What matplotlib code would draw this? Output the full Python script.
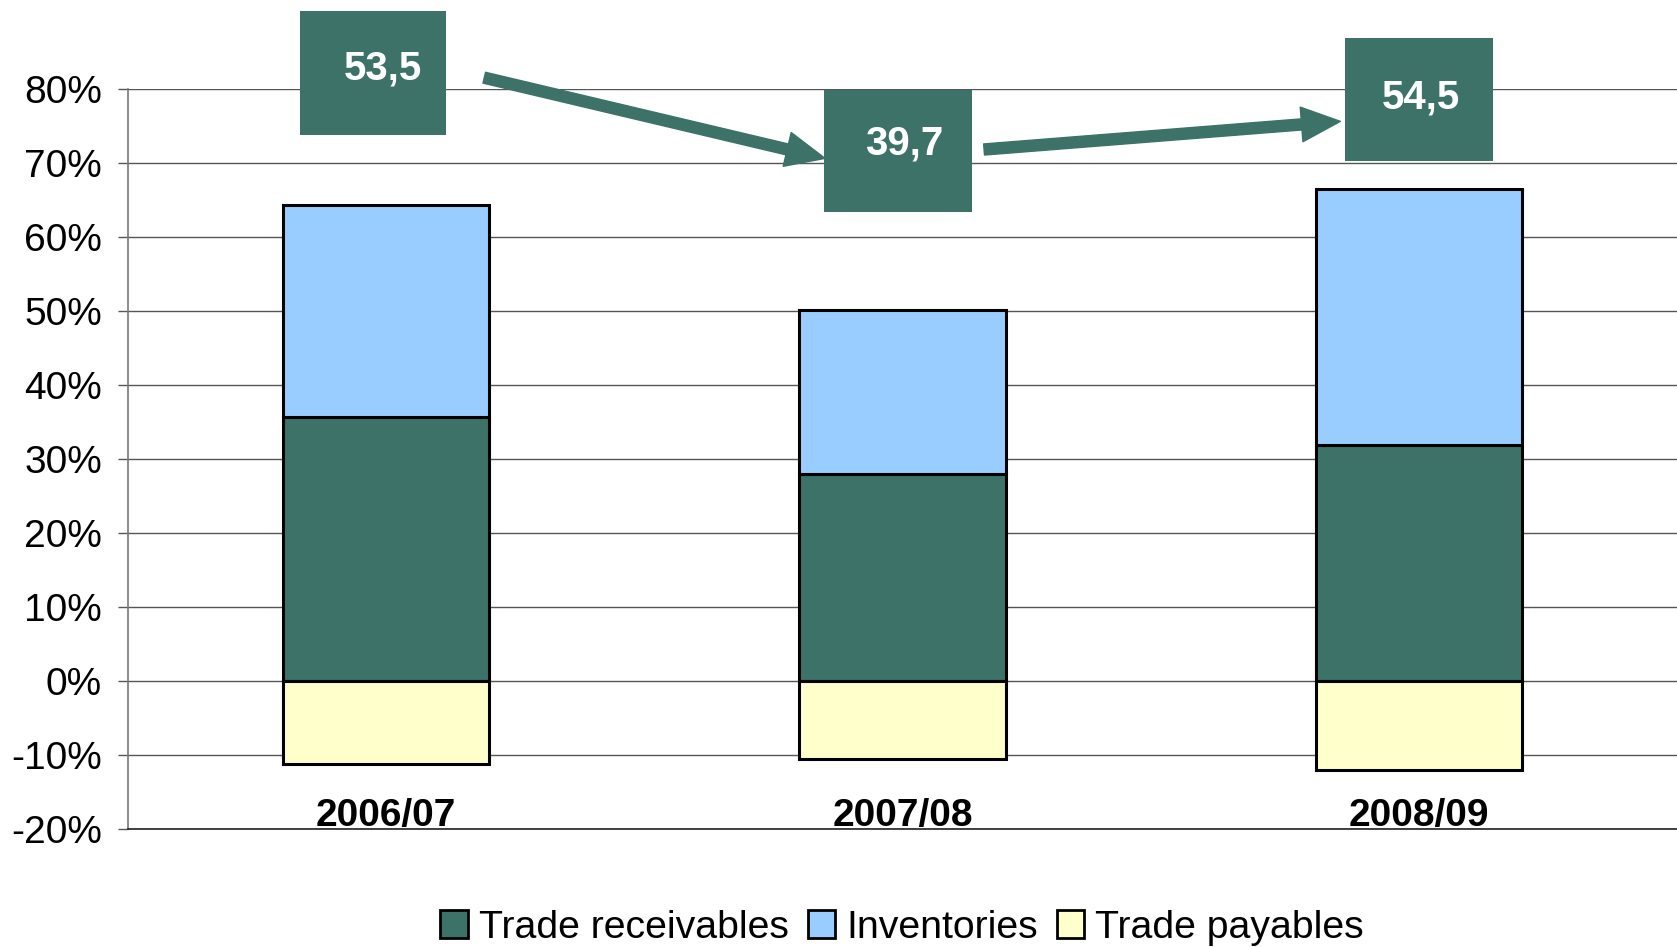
import matplotlib
matplotlib.use("Agg")
import matplotlib.pyplot as plt
from matplotlib.patches import Rectangle, FancyArrowPatch, Patch
from matplotlib.patches import ArrowStyle

plt.rcParams['font.family'] = ['Liberation Sans', 'DejaVu Sans']

categories = ["2006/07", "2007/08", "2008/09"]
receivables = [35.7, 27.9, 31.9]
inventories = [28.6, 22.2, 34.6]
payables = [-11.2, -10.5, -12.0]
net_labels = ["53,5", "39,7", "54,5"]
yticks = [-20, -10, 0, 10, 20, 30, 40, 50, 60, 70, 80]

c_rec = "#3d7268"
c_inv = "#99ccff"
c_pay = "#ffffcc"
c_grid = "#555555"

fig = plt.figure(figsize=(16.77, 9.47), dpi=100)
ax = fig.add_axes([128/1677, 1-828.9/947, 1-128/1677, (828.9-88.8)/947])

x = list(range(len(categories)))
w = 0.4
ax.bar(x, receivables, w, color=c_rec, edgecolor="black", linewidth=2.2, zorder=3, label="Trade receivables")
ax.bar(x, inventories, w, bottom=receivables, color=c_inv, edgecolor="black", linewidth=2.2, zorder=3, label="Inventories")
ax.bar(x, payables, w, color=c_pay, edgecolor="black", linewidth=2.2, zorder=3, label="Trade payables")

ax.set_xlim(-0.5, 2.5)
ax.set_ylim(-20, 80)
ax.set_yticks(yticks)
ax.set_yticklabels([f"{t}%" for t in yticks], fontsize=28)
ax.set_xticks([])
ax.yaxis.grid(True, color=c_grid, linewidth=1.0, zorder=0)
ax.set_axisbelow(True)
for s in ["top", "right"]:
    ax.spines[s].set_visible(False)
ax.spines["bottom"].set_color("#222222")
ax.spines["bottom"].set_linewidth(1.2)
ax.spines["left"].set_color("#777777")
ax.spines["left"].set_linewidth(1.2)
ax.tick_params(axis="y", length=7.2, width=1.0, color=c_grid, pad=11.5)

for i, c in enumerate(categories):
    ax.text(i, -18.3, c, ha="center", va="center", fontsize=28, fontweight="bold")

# Label boxes (x0, x1, y0, y1 in data coords) and arrows
boxes = [(-0.166, 0.116, 73.7, 90.5), (0.847, 1.135, 63.3, 79.8), (1.857, 2.144, 70.2, 86.9)]
text_pos = [(-0.5 + (383-128)/516.3, (680.2-68)/7.4),
            (-0.5 + (904-128)/516.3, (680.2-143)/7.4),
            (-0.5 + (1421-128)/516.3, (680.2-97)/7.4)]
for (x0, x1, y0, y1), (tx, ty), lab in zip(boxes, text_pos, net_labels):
    ax.add_patch(Rectangle((x0, y0), x1-x0, y1-y0, facecolor=c_rec, edgecolor="none",
                           clip_on=False, zorder=5))
    ax.text(tx, ty, lab, ha="center", va="center", color="white", fontsize=29,
            fontweight="bold", zorder=6, clip_on=False)

arrows = [((0.190, 81.5), (0.850, 70.6)), ((1.158, 71.8), (1.848, 75.6))]
style = ArrowStyle.Simple(head_length=28, head_width=25, tail_width=8)
for a, b in arrows:
    ax.add_patch(FancyArrowPatch(a, b, arrowstyle=style, mutation_scale=1,
                                 color=c_rec, shrinkA=0, shrinkB=0,
                                 clip_on=False, zorder=5))

handles = [Patch(facecolor=c_rec, edgecolor="black", linewidth=2),
           Patch(facecolor=c_inv, edgecolor="black", linewidth=2),
           Patch(facecolor=c_pay, edgecolor="black", linewidth=2)]
fig.legend(handles, ["Trade receivables", "Inventories", "Trade payables"],
           loc="center", bbox_to_anchor=(902/1677, 1-928/947), ncol=3, frameon=False,
           fontsize=28.3, handlelength=0.7, handleheight=0.7, handletextpad=0.27,
           columnspacing=0.49, borderpad=0)

fig.savefig("out.png", dpi=100)
